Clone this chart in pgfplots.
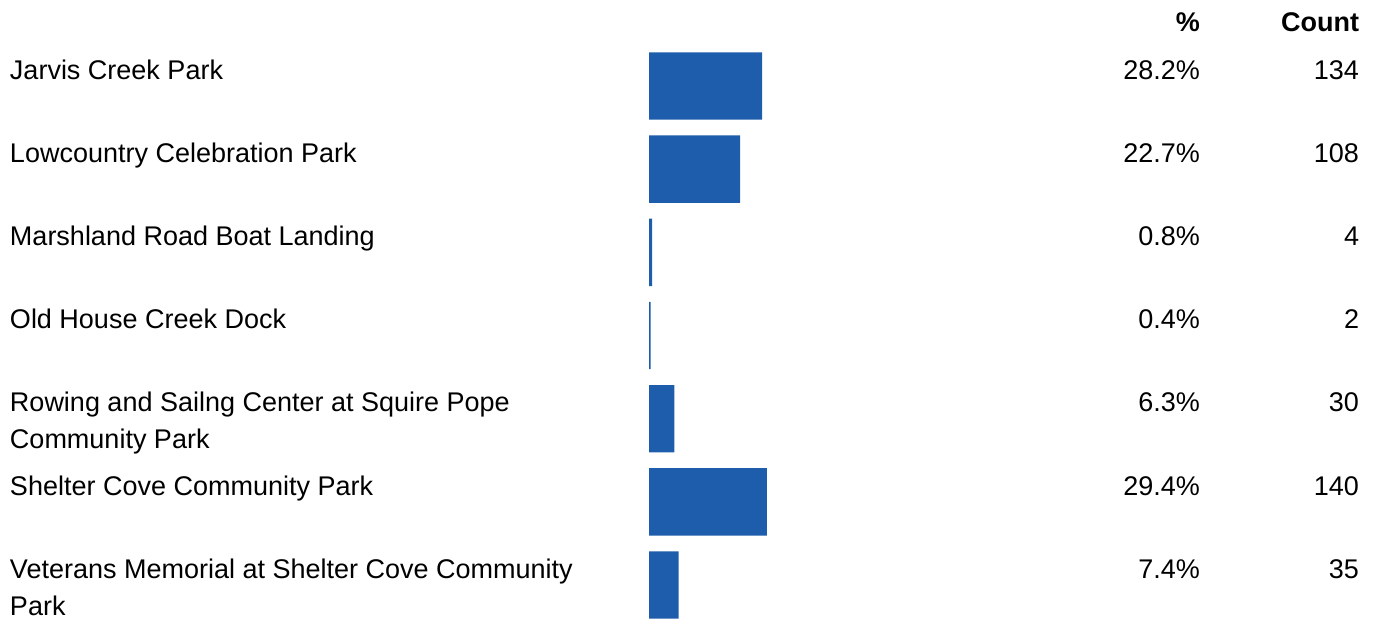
\documentclass[border=0pt]{standalone}
\usepackage{fontspec}
\setmainfont{Liberation Sans}
\usepackage{pgfplots}
\usepackage{pgfplotstable}
\pgfplotsset{compat=1.18}
\definecolor{barblue}{HTML}{1E5DAB}
\pgfplotstableread{
row pct count
0 28.2 134
1 22.7 108
2 0.8 4
3 0.4 2
4 6.3 30
5 29.4 140
6 7.4 35
}\parks
\tikzset{lbl/.style={inner sep=0pt, outer sep=0pt, font=\fontsize{13.5pt}{18.35pt}\selectfont}}
\begin{document}
\begin{tikzpicture}
\useasboundingbox (0,0) rectangle (687.5pt,-310.5pt);
\begin{axis}[
  at={(324.5pt,-25.53pt)}, anchor=north west,
  scale only axis, width=200.5pt, height=284.45pt,
  xmin=0, xmax=100, ymin=-0.42, ymax=6.42, y dir=reverse,
  axis lines=none, clip=false,
  xbar, bar width=0.81,
]
\addplot[fill=barblue, draw=none] table[x=pct, y=row] {\parks};
% headers
\node[lbl, anchor=base east, yshift=27.5pt] at (axis cs:137.4,0) {\bfseries \%};
\node[lbl, anchor=base east, yshift=27.5pt] at (axis cs:177.06,0) {\bfseries Count};
% category labels
\node[lbl, anchor=base west, yshift=3.35pt] at (axis cs:-159.35,0) {Jarvis Creek Park};
\node[lbl, anchor=base west, yshift=3.35pt] at (axis cs:-159.35,1) {Lowcountry Celebration Park};
\node[lbl, anchor=base west, yshift=3.35pt] at (axis cs:-159.35,2) {Marshland Road Boat Landing};
\node[lbl, anchor=base west, yshift=3.35pt] at (axis cs:-159.35,3) {Old House Creek Dock};
\node[lbl, anchor=base west, yshift=3.35pt] at (axis cs:-159.35,4) {Rowing and Sailng Center at Squire Pope};
\node[lbl, anchor=base west, yshift=3.35pt-18.35pt] at (axis cs:-159.35,4) {Community Park};
\node[lbl, anchor=base west, yshift=3.35pt] at (axis cs:-159.35,5) {Shelter Cove Community Park};
\node[lbl, anchor=base west, yshift=3.35pt] at (axis cs:-159.35,6) {Veterans Memorial at Shelter Cove Community};
\node[lbl, anchor=base west, yshift=3.35pt-18.35pt] at (axis cs:-159.35,6) {Park};
% percent column
\node[lbl, anchor=base east, yshift=3.35pt] at (axis cs:137.4,0) {28.2\%};
\node[lbl, anchor=base east, yshift=3.35pt] at (axis cs:137.4,1) {22.7\%};
\node[lbl, anchor=base east, yshift=3.35pt] at (axis cs:137.4,2) {0.8\%};
\node[lbl, anchor=base east, yshift=3.35pt] at (axis cs:137.4,3) {0.4\%};
\node[lbl, anchor=base east, yshift=3.35pt] at (axis cs:137.4,4) {6.3\%};
\node[lbl, anchor=base east, yshift=3.35pt] at (axis cs:137.4,5) {29.4\%};
\node[lbl, anchor=base east, yshift=3.35pt] at (axis cs:137.4,6) {7.4\%};
% count column
\node[lbl, anchor=base east, yshift=3.35pt] at (axis cs:177.06,0) {134};
\node[lbl, anchor=base east, yshift=3.35pt] at (axis cs:177.06,1) {108};
\node[lbl, anchor=base east, yshift=3.35pt] at (axis cs:177.06,2) {4};
\node[lbl, anchor=base east, yshift=3.35pt] at (axis cs:177.06,3) {2};
\node[lbl, anchor=base east, yshift=3.35pt] at (axis cs:177.06,4) {30};
\node[lbl, anchor=base east, yshift=3.35pt] at (axis cs:177.06,5) {140};
\node[lbl, anchor=base east, yshift=3.35pt] at (axis cs:177.06,6) {35};
\end{axis}
\end{tikzpicture}
\end{document}
